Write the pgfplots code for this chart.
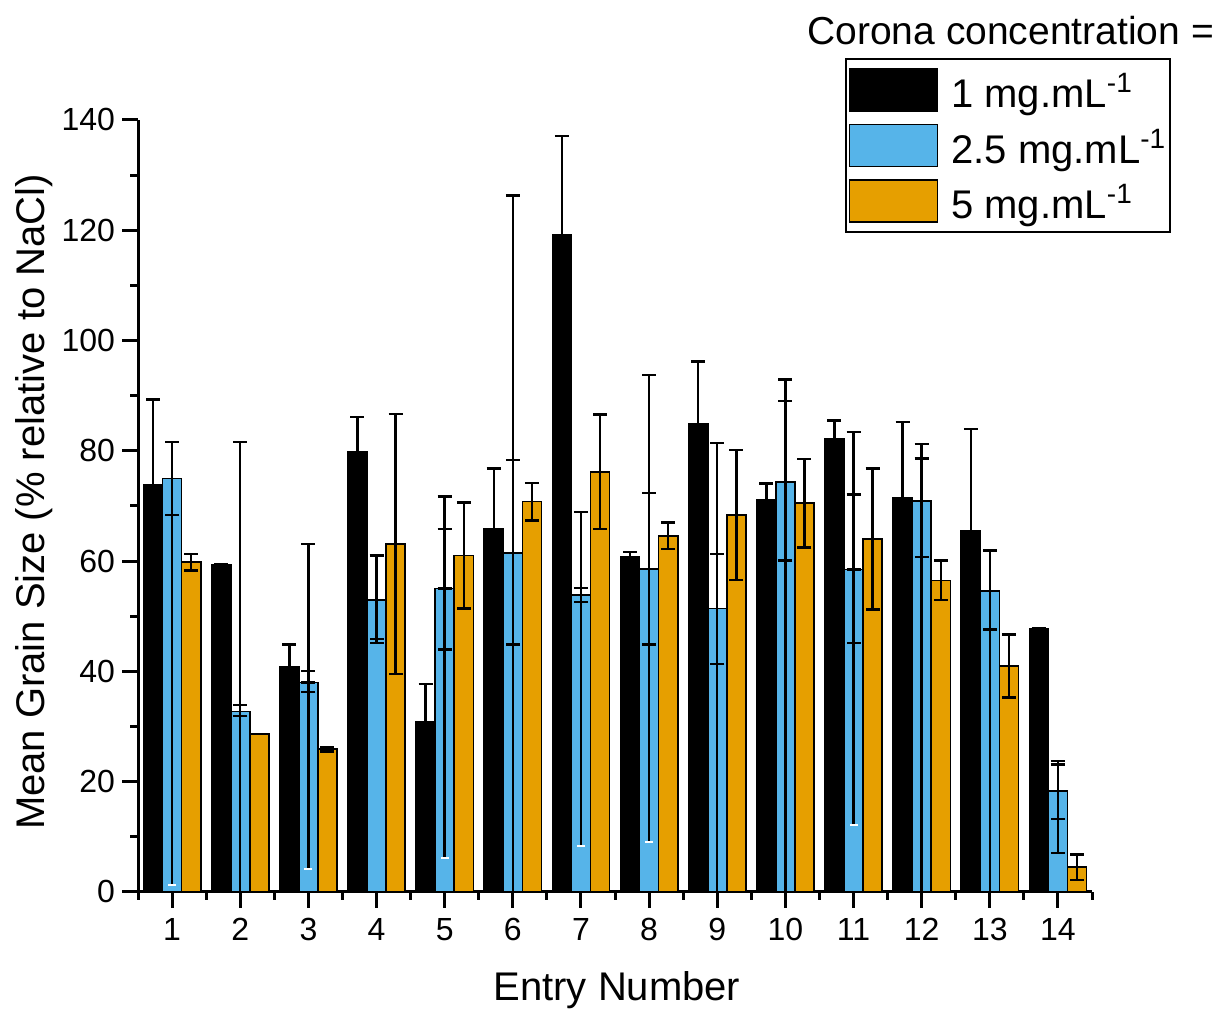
\documentclass[border=0pt]{standalone}
\usepackage{fontspec}
\setmainfont{Liberation Sans}
\usepackage{pgfplots}
\usepackage{pgfplotstable}
\pgfplotsset{compat=1.18}
\definecolor{cblue}{HTML}{56B4E9}
\definecolor{corange}{HTML}{E69F00}

% 1 mg/mL
\pgfplotstableread{
x y e
1 73.8 15.5
2 59.4 0
3 40.8 4.1
4 79.9 6.2
5 30.9 6.8
6 65.8 11.0
7 119.1 18.0
8 60.8 0.8
9 84.9 11.3
10 71.2 2.9
11 82.1 3.4
12 71.5 13.7
13 65.5 18.5
14 47.8 0
}\blackdata

% 2.5 mg/mL (bars + first error set)
\pgfplotstableread{
x y ap am
1 75.0 6.6 6.6
2 32.7 1.2 0.8
3 38.0 2.1 1.7
4 53.0 8.0 7.8
5 55.0 10.8 11.0
6 61.5 16.8 16.6
7 53.9 1.2 1.3
8 58.6 13.7 13.7
9 51.4 9.9 10.1
10 74.4 14.6 14.3
11 58.5 13.6 13.3
12 70.9 10.3 10.2
13 54.6 7.2 7.0
14 18.3 4.8 5.1
}\bluedata

% 2.5 mg/mL second error set
\pgfplotstableread{
x y bp bm
2 32.7 48.9 48.9
3 38.0 25.1 0
4 53.0 0 7.1
5 55.0 16.7 0
6 61.5 64.8 64.8
7 53.9 15.0 0
8 58.6 35.2 0
9 51.4 30.0 56
10 74.4 18.5 80
11 58.5 24.9 0
12 70.9 7.7 75
13 54.6 7.3 60
14 18.3 5.5 11.2
}\blueB

% 2.5 mg/mL lower error ends (light caps)
\pgfplotstableread{
x y wm
1 75.0 73.7
3 38.0 33.9
5 55.0 48.9
7 53.9 45.6
8 58.6 49.5
11 58.5 46.3
}\blueW

% 5 mg/mL
\pgfplotstableread{
x y e
1 59.8 1.5
2 28.6 0
3 25.9 0.4
4 63.1 23.6
5 61.0 9.6
6 70.8 3.4
7 76.2 10.4
8 64.6 2.4
9 68.4 11.8
10 70.5 8.0
11 64.0 12.8
12 56.5 3.6
13 41.0 5.7
14 4.5 2.3
}\orangedata

\pgfplotsset{
  barleg/.style={legend image code/.code={%
      \draw[fill=#1, draw=black, line width=0.8pt] (0pt,-9.5pt) rectangle (44pt,11.5pt);}},
  errs/.style={error bars/.cd, y explicit,
    error bar style={draw=black, line width=1.2pt, solid},
    error mark options={draw=black, line width=1.2pt, mark size=3.5pt, rotate=90}},
}

\begin{document}
\begin{tikzpicture}
\begin{axis}[
  width=477pt, height=386pt, scale only axis,
  xmin=0.5, xmax=14.5, ymin=0, ymax=140,
  clip mode=individual,
  axis x line*=bottom, axis y line*=left,
  axis line style={line width=1.5pt, black},
  xtick={1,2,...,14}, minor xtick={0.5,1.5,...,14.5},
  ytick={0,20,...,140}, minor ytick={10,30,...,130},
  tick align=outside, major tick length=8pt, minor tick length=4pt,
  tick style={line width=1.5pt, black},
  tick label style={font=\fontsize{16}{19}\selectfont},
  xticklabel style={yshift=-1.5pt},
  /pgf/number format/assume math mode=true,
  xlabel={Entry Number},
  ylabel={Mean Grain Size (\% relative to NaCl)},
  label style={font=\fontsize{20}{24}\selectfont},
  xlabel style={at={(rel axis cs:0.502,-0.127)}, anchor=center},
  ylabel style={at={(rel axis cs:-0.109,0.505)}, anchor=center},
  legend cell align=left,
  legend style={at={(0.741,1.080)}, anchor=north west, draw=black, line width=0.8pt,
    inner xsep=1.5pt, inner ysep=4.5pt, row sep=6pt, column sep=6pt,
    nodes={inner sep=0.5pt}, font=\fontsize{20}{24}\selectfont},
]
\addplot[ybar, bar width=0.28, bar shift=0, fill=black, draw=black, line width=0.8pt, barleg=black,
  errs, y dir=both]
  table[x expr=\thisrow{x}-0.28, y=y, y error=e] {\blackdata};
\addlegendentry{1 mg.mL\textsuperscript{-1}}

\addplot[ybar, bar width=0.28, bar shift=0, fill=cblue, draw=black, line width=0.8pt, barleg=cblue,
  errs, y dir=both]
  table[x=x, y=y, y error plus=ap, y error minus=am] {\bluedata};
\addlegendentry{2.5 mg.mL\textsuperscript{-1}}

\addplot[ybar, bar width=0.28, bar shift=0, fill=corange, draw=black, line width=0.8pt, barleg=corange,
  errs, y dir=both]
  table[x expr=\thisrow{x}+0.28, y=y, y error=e] {\orangedata};
\addlegendentry{5 mg.mL\textsuperscript{-1}}

\addplot[ybar, bar width=0.28, bar shift=0, draw=none, fill=none, forget plot,
  errs, y dir=both]
  table[x=x, y=y, y error plus=bp, y error minus=bm] {\blueB};

\addplot[ybar, bar width=0.28, bar shift=0, draw=none, fill=none, forget plot,
  error bars/.cd, y dir=minus, y explicit,
  error bar style={draw=black, line width=1.2pt, solid},
  error mark options={draw=white, line width=1pt, mark size=2pt, rotate=90}]
  table[x=x, y=y, y error minus=wm] {\blueW};

\node[anchor=base east, font=\fontsize{19.5}{23}\selectfont] at (rel axis cs:1.1352,1.0971) {Corona concentration =};
\coordinate (BBll) at (rel axis cs:-0.1447,-0.1528);
\coordinate (BBur) at (rel axis cs:1.1310,1.1554);
\end{axis}
\pgfresetboundingbox
\useasboundingbox (BBll) rectangle (BBur);
\end{tikzpicture}
\end{document}
